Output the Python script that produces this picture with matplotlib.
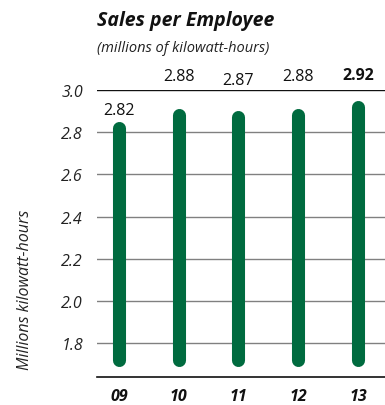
import matplotlib as mpl
from matplotlib import pyplot as plt
import numpy as np

# chart data
years = ["09", "10", "11", "12", "13"]
sales = [2.82, 2.88, 2.87, 2.88, 2.92]
ticks = [1.8, 2.0, 2.2, 2.4, 2.6, 2.8, 3.0]

plt.rcParams['font.family'] = ['Open Sans', 'DejaVu Sans']

green = "#006b3f"
fig = plt.figure(figsize=(3.85, 4.06), dpi=100)
ax = fig.add_axes([97 / 385, 1 - 378 / 406, 288 / 385, 287 / 406])

x = np.arange(len(years))
bar_base = 1.72
for xi, v in zip(x, sales):
    ax.plot([xi, xi], [bar_base, v], color=green, lw=9.4,
            solid_capstyle='round', clip_on=False, zorder=3)

# value labels (offsets in points above the bar top)
label_off = [13, 28, 27, 28, 23]
for i, (xi, v) in enumerate(zip(x, sales)):
    weight = 'bold' if i == len(sales) - 1 else 'normal'
    ax.annotate(f"{v:.2f}", (xi, v), xytext=(0, label_off[i]),
                textcoords='offset points', ha='center', va='center',
                fontsize=11.5, fontweight=weight, color='#111111',
                annotation_clip=False)

for t in ticks:
    c = '#111111' if t == 3.0 else '#808080'
    ax.axhline(t, color=c, lw=1.0, zorder=1)

ax.set_xlim(-0.368, 4.452)
ax.set_ylim(1.64, 3.0)
ax.set_yticks(ticks)
ax.set_yticklabels([f"{t:.1f}" for t in ticks], fontsize=11.5, style='italic',
                   color='#222222')
ax.set_xticks(x)
ax.set_xticklabels(years, fontsize=11.5, style='italic', fontweight='bold',
                   color='#111111')
ax.tick_params(axis='both', length=0)
ax.tick_params(axis='y', pad=10)
ax.tick_params(axis='x', pad=8)

for s in ['top', 'right', 'left']:
    ax.spines[s].set_visible(False)
ax.spines['bottom'].set_color('#111111')
ax.spines['bottom'].set_linewidth(1.2)

fig.text(25 / 385, 1 - 290 / 406, "Millions kilowatt-hours", rotation=90,
         ha='center', va='center', fontsize=11.5, style='italic', color='#222222')

fig.text(97 / 385, 1 - 21 / 406, "Sales per Employee", ha='left', va='center',
         fontsize=14, style='italic', fontweight='bold', color='#111111')
fig.text(97 / 385, 1 - 48 / 406, "(millions of kilowatt-hours)", ha='left',
         va='center', fontsize=10.5, style='italic', color='#222222')

fig.savefig("out.png", dpi=100)
